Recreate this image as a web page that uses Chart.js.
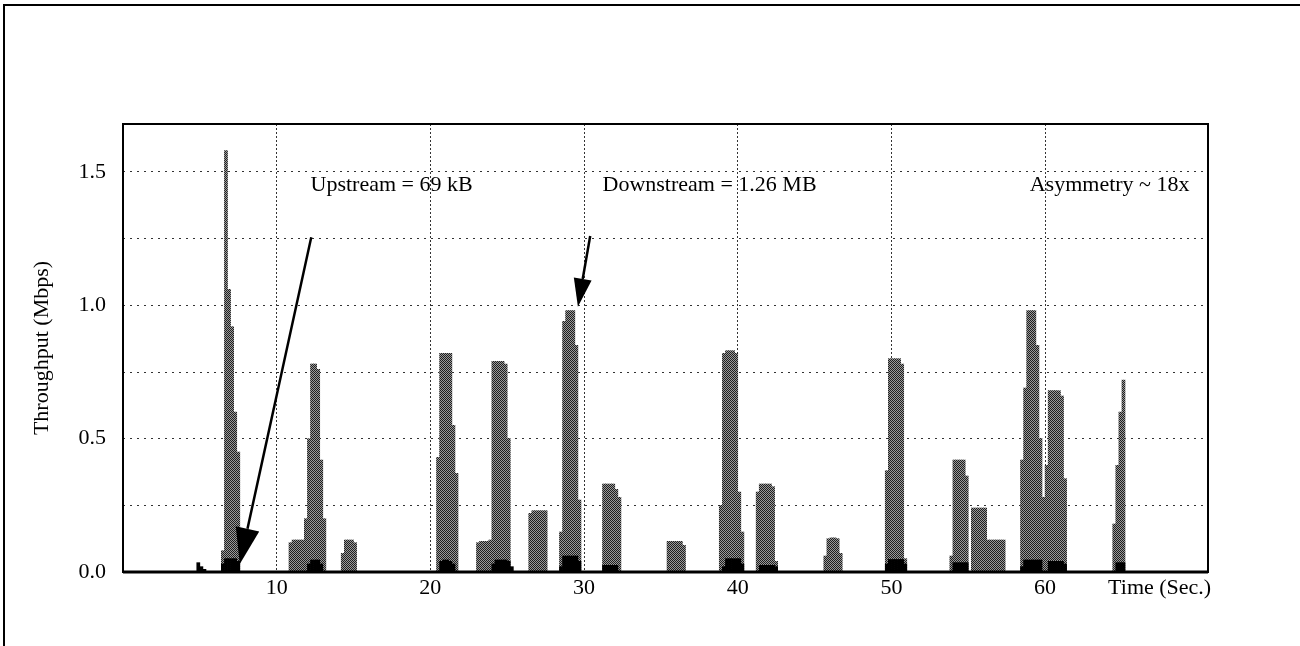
<!DOCTYPE html>
<html>
<head>
<meta charset="utf-8">
<script src="https://cdn.jsdelivr.net/npm/chart.js@4.4.0/dist/chart.umd.min.js"></script>
<style>
  html, body { margin: 0; padding: 0; background: #fff; }
  #wrap { width: 1300px; height: 646px; }
</style>
</head>
<body>
<div id="wrap"><canvas id="chart" width="1300" height="646"></canvas></div>
<script>
// bin centres (seconds), 0.2 s bins
const downTimes = [6.5, 6.7, 6.9, 7.1, 7.3, 7.5,
  10.9, 11.1, 11.3, 11.5, 11.7,
  11.9, 12.1, 12.3, 12.5, 12.7, 12.9, 13.1,
  14.3, 14.5, 14.7, 14.9, 15.1,
  20.5, 20.7, 20.9, 21.1, 21.3, 21.5, 21.7,
  23.1, 23.3, 23.5, 23.7, 23.9, 24.1, 24.3, 24.5, 24.7, 24.9, 25.1,
  26.5, 26.7, 26.9, 27.1, 27.3, 27.5,
  28.5, 28.7, 28.9, 29.1, 29.3, 29.5, 29.7,
  31.3, 31.5, 31.7, 31.9, 32.1, 32.3,
  35.5, 35.7, 35.9, 36.1, 36.3, 36.5,
  38.9, 39.1, 39.3, 39.5, 39.7, 39.9, 40.1, 40.3,
  41.3, 41.5, 41.7, 41.9, 42.1, 42.3, 42.5,
  45.7, 45.9, 46.1, 46.3, 46.5, 46.7,
  49.7, 49.9, 50.1, 50.3, 50.5, 50.7, 50.9,
  53.9, 54.1, 54.3, 54.5, 54.7, 54.9,
  55.3, 55.5, 55.7, 55.9, 56.1,
  56.3, 56.5, 56.7, 56.9, 57.1, 57.3,
  58.5, 58.7, 58.9, 59.1, 59.3, 59.5, 59.7, 59.9, 60.1, 60.3, 60.5, 60.7, 60.9, 61.1, 61.3,
  64.5, 64.7, 64.9, 65.1];
const downMbps = [0.08, 1.58, 1.06, 0.92, 0.6, 0.45,
  0.11, 0.12, 0.12, 0.12, 0.12,
  0.2, 0.5, 0.78, 0.78, 0.76, 0.42, 0.2,
  0.07, 0.12, 0.12, 0.12, 0.11,
  0.43, 0.82, 0.82, 0.82, 0.82, 0.55, 0.37,
  0.11, 0.115, 0.115, 0.115, 0.12, 0.79, 0.79, 0.79, 0.79, 0.78, 0.5,
  0.22, 0.23, 0.23, 0.23, 0.23, 0.23,
  0.15, 0.94, 0.98, 0.98, 0.98, 0.85, 0.27,
  0.33, 0.33, 0.33, 0.33, 0.31, 0.28,
  0.115, 0.115, 0.115, 0.115, 0.115, 0.1,
  0.25, 0.82, 0.83, 0.83, 0.83, 0.82, 0.3, 0.15,
  0.3, 0.33, 0.33, 0.33, 0.33, 0.32, 0.04,
  0.06, 0.125, 0.128, 0.128, 0.125, 0.07,
  0.38, 0.8, 0.8, 0.8, 0.8, 0.78, 0.05,
  0.06, 0.42, 0.42, 0.42, 0.42, 0.36,
  0.24, 0.24, 0.24, 0.24, 0.24,
  0.12, 0.12, 0.12, 0.12, 0.12, 0.12,
  0.42, 0.69, 0.98, 0.98, 0.98, 0.85, 0.5, 0.28, 0.4, 0.68, 0.68, 0.68, 0.68, 0.66, 0.35,
  0.18, 0.4, 0.6, 0.72];

const upTimes = [4.9, 5.1, 5.3,
  6.5, 6.7, 6.9, 7.1, 7.3, 7.5,
  12.1, 12.3, 12.5, 12.7, 12.9,
  20.7, 20.9, 21.1, 21.3, 21.5,
  24.1, 24.3, 24.5, 24.7, 24.9, 25.1, 25.3,
  28.5, 28.7, 28.9, 29.1, 29.3, 29.5, 29.7,
  31.3, 31.5, 31.7, 31.9, 32.1,
  39.1, 39.3, 39.5, 39.7, 39.9, 40.1, 40.3,
  41.5, 41.7, 41.9, 42.1, 42.3, 42.5,
  49.7, 49.9, 50.1, 50.3, 50.5, 50.7, 50.9,
  54.1, 54.3, 54.5, 54.7, 54.9,
  58.5, 58.7, 58.9, 59.1, 59.3, 59.5, 59.7,
  60.3, 60.5, 60.7, 60.9, 61.1, 61.3,
  64.7, 64.9, 65.1];
const upMbps = [0.035, 0.02, 0.01,
  0.03, 0.05, 0.05, 0.05, 0.05, 0.04,
  0.03, 0.045, 0.045, 0.045, 0.03,
  0.04, 0.045, 0.045, 0.04, 0.03,
  0.03, 0.045, 0.045, 0.045, 0.045, 0.04, 0.02,
  0.02, 0.06, 0.06, 0.06, 0.06, 0.06, 0.04,
  0.025, 0.025, 0.025, 0.025, 0.025,
  0.02, 0.05, 0.05, 0.05, 0.05, 0.05, 0.03,
  0.025, 0.025, 0.025, 0.025, 0.025, 0.02,
  0.03, 0.047, 0.047, 0.047, 0.047, 0.047, 0.03,
  0.035, 0.035, 0.035, 0.035, 0.035,
  0.02, 0.045, 0.045, 0.045, 0.045, 0.045, 0.045,
  0.04, 0.04, 0.04, 0.04, 0.04, 0.03,
  0.035, 0.035, 0.035];

const xTickValues = [10, 20, 30, 40, 50, 60];
const yGridValues = [0, 0.25, 0.5, 0.75, 1.0, 1.25, 1.5];
const yLabelValues = [0, 0.5, 1.0, 1.5];

const noteTexts = ['Upstream = 69 kB', 'Downstream = 1.26 MB', 'Asymmetry ~ 18x'];
const noteAt = [[12.2, 1.45], [31.2, 1.45], [59.0, 1.45]];   // [sec, Mbps], left end of text
const arrowFrom = [[12.25, 1.255], [30.4, 1.26]];
const arrowTo = [[7.6, 0.03], [29.6, 0.995]];

const FONT = '"Liberation Serif", "Times New Roman", serif';

function stipple(ctx) {
  const c = document.createElement('canvas');
  c.width = 2; c.height = 2;
  const g = c.getContext('2d');
  g.fillStyle = '#9a9a9a';
  g.fillRect(0, 0, 2, 2);
  g.fillStyle = '#1e1e1e';
  g.fillRect(0, 0, 1, 1);
  g.fillRect(1, 1, 1, 1);
  return ctx.createPattern(c, 'repeat');
}

function drawArrow(ctx, x1, y1, x2, y2, len, half) {
  const dx = x2 - x1, dy = y2 - y1;
  const d = Math.hypot(dx, dy);
  const ux = dx / d, uy = dy / d;
  const bx = x2 - ux * len, by = y2 - uy * len;
  ctx.beginPath();
  ctx.moveTo(x1, y1);
  ctx.lineTo(bx, by);
  ctx.stroke();
  ctx.beginPath();
  ctx.moveTo(x2, y2);
  ctx.lineTo(bx - uy * half, by + ux * half);
  ctx.lineTo(bx + uy * half, by - ux * half);
  ctx.closePath();
  ctx.fill();
}

const decor = {
  id: 'decor',
  beforeDraw(chart) {
    const ctx = chart.ctx;
    ctx.save();
    ctx.fillStyle = '#fff';
    ctx.fillRect(0, 0, chart.width, chart.height);
    ctx.strokeStyle = '#000';
    ctx.lineWidth = 2;
    ctx.beginPath();
    ctx.moveTo(4, chart.height);
    ctx.lineTo(4, 5);
    ctx.lineTo(chart.width, 5);
    ctx.stroke();
    ctx.restore();
  },
  afterDatasetsDraw(chart) {
    const { ctx, chartArea: a, scales: { x, y } } = chart;
    ctx.save();
    ctx.strokeStyle = '#000';
    ctx.lineWidth = 2;
    ctx.strokeRect(a.left, a.top, a.right - a.left, a.bottom - a.top);
    ctx.lineWidth = 3;
    ctx.beginPath();
    ctx.moveTo(a.left, a.bottom);
    ctx.lineTo(a.right, a.bottom);
    ctx.stroke();

    ctx.fillStyle = '#000';
    ctx.font = '22px ' + FONT;
    ctx.textBaseline = 'middle';
    ctx.textAlign = 'left';
    noteTexts.forEach((t, i) => {
      ctx.fillText(t, x.getPixelForValue(noteAt[i][0]), y.getPixelForValue(noteAt[i][1]));
    });
    ctx.fillText('Time (Sec.)', x.getPixelForValue(64.1), a.bottom + 16);

    ctx.lineWidth = 2.5;
    arrowFrom.forEach((f, i) => {
      const big = i === 0;
      drawArrow(ctx,
        x.getPixelForValue(f[0]), y.getPixelForValue(f[1]),
        x.getPixelForValue(arrowTo[i][0]), y.getPixelForValue(arrowTo[i][1]),
        big ? 36 : 28, big ? 12 : 9);
    });
    ctx.restore();
  }
};

const canvas = document.getElementById('chart');
const pattern = stipple(canvas.getContext('2d'));

new Chart(canvas, {
  type: 'bar',
  data: {
    datasets: [
      {
        label: 'Upstream',
        data: upTimes.map((t, i) => ({ x: t, y: upMbps[i] })),
        backgroundColor: '#000',
        grouped: false,
        barPercentage: 1,
        categoryPercentage: 1,
        order: 0
      },
      {
        label: 'Downstream',
        data: downTimes.map((t, i) => ({ x: t, y: downMbps[i] })),
        backgroundColor: pattern,
        grouped: false,
        barPercentage: 1,
        categoryPercentage: 1,
        order: 1
      }
    ]
  },
  options: {
    responsive: false,
    animation: false,
    layout: { padding: { top: 124, right: 92, left: 0, bottom: 0 } },
    plugins: { legend: { display: false }, tooltip: { enabled: false } },
    scales: {
      x: {
        type: 'linear',
        min: 0,
        max: 70.6,
        offset: false,
        afterBuildTicks: ax => { ax.ticks = xTickValues.map(v => ({ value: v })); },
        afterFit: ax => { ax.height = 74; },
        ticks: {
          color: '#000',
          font: { family: FONT, size: 22 },
          padding: 3,
          maxRotation: 0,
          autoSkip: false,
          callback: v => String(v)
        },
        grid: { offset: false, color: '#333', lineWidth: 1, drawTicks: false },
        border: { display: false, dash: [2, 2] }
      },
      y: {
        min: 0,
        max: 1.68,
        afterBuildTicks: ax => { ax.ticks = yGridValues.map(v => ({ value: v })); },
        afterFit: ax => { ax.width = 123; },
        ticks: {
          color: '#000',
          font: { family: FONT, size: 22 },
          padding: 17,
          callback: v => yLabelValues.includes(v) ? v.toFixed(1) : ''
        },
        grid: {
          color: c => (c.tick && c.tick.value === 0) ? 'rgba(0,0,0,0)' : '#333',
          lineWidth: 1,
          drawTicks: false
        },
        border: { display: false, dash: [2, 5] },
        title: {
          display: true,
          text: 'Throughput (Mbps)',
          color: '#000',
          font: { family: FONT, size: 22 },
          padding: { top: 29, bottom: 0 }
        }
      }
    }
  },
  plugins: [decor]
});
</script>
</body>
</html>
